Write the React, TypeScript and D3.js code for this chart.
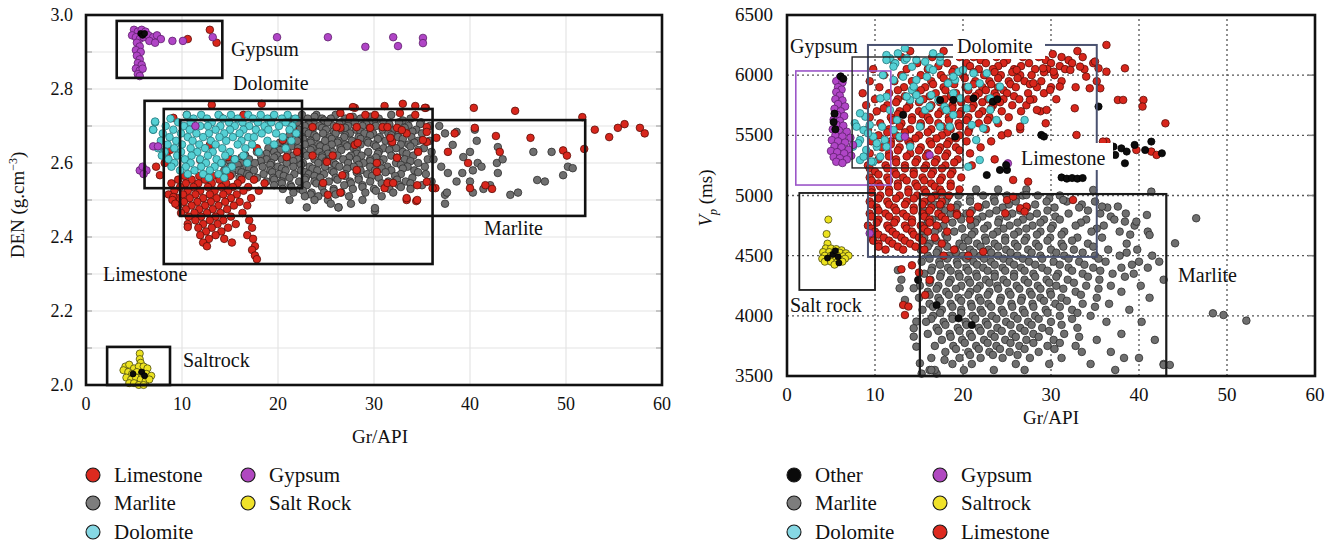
import React from "react";
import * as d3 from "d3";

type P = { x: number; y: number };
type Row = [number, number[]];

const FONT = "'Liberation Serif', 'Times New Roman', serif";

// ---------- helpers (parsing typed data only) ----------
const pairs = (s: string): P[] =>
  s.trim().split(/\s+/).map((t) => {
    const [x, y] = t.split(",").map(Number);
    return { x, y };
  });
const rows = (r: Row[]): P[] => r.flatMap(([y, xs]) => xs.map((x) => ({ x, y })));

// ================= LEFT PANEL DATA (Gr/API vs DEN) =================
const leftXTicks = [0, 10, 20, 30, 40, 50, 60];
const leftYTicks = [2.0, 2.2, 2.4, 2.6, 2.8, 3.0];

const leftMarliteRows: Row[] = [
  [2.73, [22.5, 24.0, 26.0, 31.8]],
  [2.725, [23.8, 27.8, 29.6]],
  [2.72, [21.2, 23.1, 24.6, 25.5, 27.0, 28.6, 30.5, 33.8]],
  [2.715, [21.0, 24.8, 27.4, 30.0, 33.0]],
  [2.71, [22.0, 23.7, 25.2, 26.6, 28.0, 29.5, 31.0, 32.6, 34.9]],
  [2.705, [23.2, 26.4, 29.2, 31.6, 34.8]],
  [2.70, [22.8, 24.3, 25.8, 27.3, 28.8, 30.2, 33.6, 35.8]],
  [2.695, [21.6, 24.6, 27.0, 29.6, 33.2]],
  [2.69, [22.2, 23.6, 25.0, 26.5, 28.1, 30.9, 32.2, 34.4]],
  [2.685, [22.8, 25.8, 28.6, 32.6, 34.0]],
  [2.68, [21.8, 23.2, 24.7, 26.0, 27.5, 29.0, 29.9, 31.5, 35.0]],
  [2.675, [21.2, 23.8, 27.0, 29.6, 31.8]],
  [2.67, [22.5, 24.0, 25.4, 26.9, 28.4, 30.6, 32.5, 33.9]],
  [2.665, [22.6, 25.6, 28.6, 30.4, 33.0]],
  [2.66, [20.9, 22.0, 23.4, 24.9, 26.3, 27.7, 29.3, 31.2, 34.6, 35.8]],
  [2.655, [20.2, 23.4, 26.2, 29.4, 31.8, 34.2]],
  [2.65, [21.4, 22.8, 24.2, 25.6, 27.0, 28.6, 30.0, 32.8, 33.6]],
  [2.645, [21.4, 24.4, 27.2, 30.2, 33.8]],
  [2.64, [19.0, 20.5, 22.1, 23.6, 25.0, 26.5, 27.9, 31.0, 32.3, 35.2]],
  [2.635, [20.2, 23.4, 26.6, 28.2, 31.6, 34.6]],
  [2.63, [17.8, 19.6, 21.0, 22.6, 24.3, 25.7, 29.4, 30.5, 33.0, 36.0]],
  [2.625, [18.8, 22.2, 25.2, 28.2, 30.4, 33.4]],
  [2.62, [16.6, 18.2, 19.9, 21.6, 23.0, 24.6, 26.2, 27.6, 28.7, 31.8, 34.1]],
  [2.615, [16.2, 19.6, 24.6, 27.4, 30.2, 32.4]],
  [2.61, [15.5, 17.0, 18.8, 20.4, 22.1, 23.8, 25.3, 26.8, 28.2, 29.6, 31.0, 33.2, 35.6]],
  [2.605, [15.0, 18.2, 21.6, 25.0, 29.6, 33.8]],
  [2.60, [14.2, 16.1, 17.6, 19.3, 20.9, 22.6, 24.2, 25.8, 27.3, 28.9, 30.6, 32.3, 34.6]],
  [2.595, [15.8, 19.2, 22.4, 26.0, 28.4, 32.8]],
  [2.59, [15.0, 16.7, 18.4, 20.0, 21.6, 23.3, 24.9, 26.4, 27.9, 29.6, 31.4, 33.5, 35.3]],
  [2.585, [17.0, 20.4, 23.6, 27.2, 30.8, 33.0]],
  [2.58, [14.4, 15.9, 17.5, 19.2, 20.8, 22.4, 24.1, 25.6, 28.6, 30.1, 31.8, 34.2]],
  [2.575, [16.2, 19.4, 22.8, 25.8, 28.2, 31.2, 34.6]],
  [2.57, [15.2, 16.8, 18.5, 20.1, 21.7, 23.2, 24.8, 27.0, 29.3, 32.8, 35.4]],
  [2.565, [17.0, 20.6, 23.8, 27.0, 29.8, 32.2]],
  [2.56, [16.0, 17.8, 19.5, 21.2, 22.9, 24.4, 26.0, 28.4, 30.5, 34.0]],
  [2.555, [19.6, 22.8, 26.2, 28.4, 32.4]],
  [2.55, [18.8, 20.4, 22.2, 23.8, 25.3, 27.5, 29.6, 31.5, 33.3, 36.0]],
  [2.545, [20.4, 24.0, 27.6, 30.8, 33.8]],
  [2.54, [19.6, 21.3, 23.0, 24.6, 26.9, 28.8, 32.6, 35.0]],
  [2.535, [21.4, 24.6, 28.8, 32.8]],
  [2.53, [20.5, 22.3, 25.8, 27.8, 30.0, 31.6, 33.8]],
  [2.525, [22.6, 25.8, 30.2]],
  [2.52, [21.6, 23.5, 24.8, 26.6, 29.1, 32.0]],
  [2.515, [23.4, 26.0]],
  [2.51, [22.8, 24.2, 27.4, 30.8]],
  [2.50, [21.2, 23.8, 25.2, 28.8]],
  [2.49, [25.5, 27.6]],
  [2.48, [23.0, 26.3]],
  [2.47, [30.1]],
];
const leftMarliteScatter =
  "37.4,2.68 38.6,2.684 38.2,2.649 37.7,2.573 37.4,2.514 37.4,2.49 38.6,2.55 39.2,2.573 39.3,2.616 40.0,2.63 40.5,2.69 40.7,2.66 40.8,2.60 41.2,2.59 40.3,2.58 40.0,2.55 40.3,2.52 41.4,2.53 42.1,2.54 42.9,2.573 42.8,2.60 42.9,2.643 43.4,2.61 46.6,2.63 48.5,2.63 47.0,2.554 47.8,2.55 49.7,2.567 50.2,2.59 50.7,2.586 44.2,2.514 45.0,2.52 37.6,2.52 30.1,2.478 26.3,2.48 36.8,2.70 36.2,2.61 37.0,2.59";

const leftLimestoneRows: Row[] = [
  [2.565, [10.3, 11.8, 13.2, 15.0]],
  [2.555, [9.6, 11.0, 12.4, 13.9, 16.2, 17.5]],
  [2.545, [8.9, 10.4, 11.7, 13.1, 14.6, 15.8, 18.6]],
  [2.535, [9.8, 11.2, 12.7, 14.1, 15.3, 16.9]],
  [2.525, [9.2, 10.6, 11.9, 13.4, 14.8, 16.4, 18.0]],
  [2.515, [8.6, 10.1, 11.4, 12.9, 14.3, 15.7]],
  [2.505, [9.5, 10.8, 12.2, 13.6, 15.1, 17.2]],
  [2.495, [10.2, 11.6, 13.0, 14.5, 16.0]],
  [2.485, [9.6, 11.0, 12.4, 13.8, 15.4, 16.8]],
  [2.475, [10.4, 11.8, 13.2, 14.7]],
  [2.465, [9.9, 11.3, 12.6, 14.0, 16.3]],
  [2.455, [10.7, 12.0, 13.5, 15.1]],
  [2.445, [11.4, 12.9, 14.3, 17.0]],
  [2.435, [10.6, 12.2, 13.7, 15.6]],
  [2.425, [11.7, 13.1, 14.8, 17.3]],
  [2.415, [12.5, 14.1]],
  [2.405, [11.9, 13.5, 16.8]],
  [2.395, [12.8, 14.4, 17.4]],
  [2.385, [12.2, 15.2]],
  [2.375, [12.6, 17.6]],
  [2.365, [17.3]],
  [2.35, [17.6]],
  [2.34, [17.8]],
];
const leftLimestoneScatter =
  "10.6,2.935 12.9,2.96 13.6,2.925 40.4,2.749 44.7,2.741 51.7,2.724 53.0,2.69 54.5,2.67 55.4,2.695 56.1,2.705 57.7,2.695 58.2,2.68 51.9,2.638 49.7,2.634 50.1,2.62 46.3,2.668 42.7,2.673 43.1,2.63 40.5,2.695 39.8,2.60 41.6,2.54 42.3,2.53 40.0,2.532 37.7,2.63 38.4,2.68 36.4,2.532 36.5,2.668 33.4,2.50 34.4,2.497 35.5,2.697 35.4,2.749 34.3,2.754 33.0,2.76 31.1,2.754 32.7,2.735 34.3,2.73 28.0,2.749 29.1,2.73 30.1,2.73 27.5,2.724 26.5,2.735 32.4,2.695 30.9,2.697 28.2,2.697 26.5,2.695 33.4,2.68 31.9,2.657 28.0,2.649 35.5,2.657 34.6,2.63 32.4,2.614 30.3,2.60 28.2,2.581 26.7,2.567 31.1,2.532 26.5,2.52 34.5,2.54 13.1,2.757 18.3,2.76 27.8,2.751 35.3,2.749 16.4,2.73 14.0,2.724 19.5,2.724 10.5,2.73 9.1,2.722 21.6,2.689 23.6,2.697 26.1,2.697 29.6,2.695 31.4,2.697 32.9,2.689 35.5,2.684 35.1,2.662 31.7,2.668 28.3,2.654 25.1,2.603 25.7,2.62 23.6,2.62 30.3,2.576 31.4,2.546 32.0,2.546 24.7,2.546 25.2,2.514 33.4,2.505 34.5,2.50 36.1,2.532 35.5,2.549 20.5,2.662 22.0,2.63 20.9,2.616 17.8,2.64 12.9,2.649 11.9,2.608 14.8,2.616 8.75,2.635 7.7,2.567 9.1,2.508 10.6,2.427 8.4,2.62 9.0,2.50 9.3,2.49 7.3,2.59 8.2,2.60";

const leftDolomiteRows: Row[] = [
  [2.73, [10.5, 12.0, 13.8, 15.1, 16.9, 18.2, 19.6, 21.0]],
  [2.72, [8.8, 11.2, 12.6, 14.3, 15.8, 17.4, 18.9, 20.4, 21.8]],
  [2.71, [7.2, 9.6, 10.9, 13.1, 14.9, 16.3, 17.9, 19.3, 20.8]],
  [2.70, [8.3, 10.2, 11.9, 12.7, 14.0, 15.5, 17.0, 18.6, 20.1, 21.5]],
  [2.69, [7.0, 9.1, 10.8, 13.5, 15.0, 16.4, 17.7, 19.0, 21.2]],
  [2.68, [8.0, 9.9, 11.5, 12.8, 14.4, 16.0, 18.3, 19.8, 21.9]],
  [2.67, [8.7, 10.6, 12.2, 13.9, 15.3, 16.9, 17.5, 20.5]],
  [2.66, [7.8, 9.4, 11.1, 13.0, 14.6, 16.2, 18.9, 21.4]],
  [2.65, [8.5, 10.0, 11.8, 13.5, 15.8, 17.3, 19.6]],
  [2.64, [7.5, 9.2, 10.9, 12.4, 14.2, 16.6, 20.8]],
  [2.63, [8.2, 9.9, 11.6, 13.2, 15.0, 18.0]],
  [2.62, [7.9, 9.5, 11.0, 12.7, 14.5, 16.4]],
  [2.61, [8.6, 10.3, 11.9, 13.6, 15.5]],
  [2.60, [9.2, 10.9, 12.5, 14.1, 16.8]],
  [2.59, [8.9, 10.4, 12.0, 13.4, 15.2]],
  [2.58, [9.8, 11.3, 12.9, 14.6]],
  [2.57, [10.6, 12.2, 13.8]],
  [2.56, [12.8, 14.4]],
];
const leftDolomiteScatter = "7.2,2.712 7.0,2.69";

const leftGypsum =
  "5.0,2.96 5.4,2.955 5.8,2.96 6.2,2.955 4.8,2.945 5.2,2.94 5.6,2.935 6.0,2.94 6.5,2.945 7.0,2.94 7.4,2.945 7.8,2.935 6.6,2.93 7.2,2.925 5.3,2.925 5.6,2.915 5.2,2.905 5.7,2.9 5.3,2.89 5.6,2.88 5.4,2.87 5.8,2.865 5.2,2.855 5.6,2.85 5.9,2.855 5.4,2.84 5.6,2.835 9.0,2.93 10.1,2.93 13.2,2.94 19.9,2.94 25.2,2.94 29.1,2.914 32.0,2.94 32.5,2.916 35.1,2.938 35.1,2.924 5.6,2.58 5.9,2.59 6.3,2.58 6.0,2.57 7.0,2.645 7.5,2.645 11.4,2.70";
const leftOther = "5.7,2.95 5.9,2.945 6.1,2.95 4.9,2.03 5.8,2.035 6.1,2.025";
const leftSalt =
  "5.6,2.085 5.6,2.07 5.7,2.06 4.1,2.05 4.5,2.055 5.0,2.045 5.5,2.05 6.0,2.05 6.4,2.045 3.9,2.04 4.4,2.035 4.8,2.03 5.3,2.035 5.8,2.03 6.3,2.03 6.8,2.025 4.2,2.02 4.7,2.015 5.2,2.02 5.7,2.015 6.2,2.01 6.6,2.015 4.5,2.005 5.0,2.005 5.5,2.0 6.0,2.0";

// zone boxes (Gr/API range, DEN range)
const leftBoxes = [
  { name: "Gypsum", x0: 3.2, x1: 14.2, y0: 2.83, y1: 2.984 },
  { name: "Dolomite", x0: 6.1, x1: 22.5, y0: 2.532, y1: 2.768 },
  { name: "Limestone", x0: 8.1, x1: 36.1, y0: 2.327, y1: 2.746 },
  { name: "Marlite", x0: 9.8, x1: 52.0, y0: 2.457, y1: 2.716 },
  { name: "Saltrock", x0: 2.2, x1: 8.75, y0: 2.0, y1: 2.103 },
];

// ================= RIGHT PANEL DATA (Gr/API vs Vp) =================
const rightXTicks = [0, 10, 20, 30, 40, 50, 60];
const rightYTicks = [3500, 4000, 4500, 5000, 5500, 6000, 6500];

const rightMarliteRows: Row[] = [
  [5050, [21.5, 24.0, 27.2]],
  [5000, [17.0, 19.5, 22.3, 25.0, 26.8, 28.5, 31.0]],
  [4975, [18.2, 20.8, 23.5, 26.0, 29.8]],
  [4950, [16.0, 18.0, 20.8, 23.6, 26.0, 29.5, 31.8, 35.0]],
  [4925, [16.8, 19.4, 22.6, 25.2, 28.2, 33.5]],
  [4900, [17.5, 19.2, 21.9, 24.5, 27.3, 30.4, 33.2, 36.4]],
  [4875, [15.6, 18.0, 21.0, 23.8, 26.5, 29.6, 34.2]],
  [4850, [15.8, 18.6, 20.4, 23.0, 25.6, 28.4, 32.0, 35.6, 38.5]],
  [4825, [17.3, 19.6, 22.2, 25.0, 27.6, 30.5, 36.8]],
  [4800, [16.5, 19.8, 21.6, 24.1, 26.8, 29.2, 31.0, 34.0, 37.2]],
  [4775, [16.0, 18.8, 21.4, 24.0, 26.2, 28.8, 33.4]],
  [4750, [15.4, 17.8, 20.9, 22.8, 25.3, 27.9, 30.2, 32.8, 36.0, 39.5]],
  [4725, [17.2, 19.9, 22.4, 24.6, 27.2, 30.0, 35.2]],
  [4700, [16.8, 19.0, 21.3, 23.9, 26.3, 28.8, 31.5, 34.6, 37.8, 41.0]],
  [4675, [15.4, 18.0, 21.0, 23.4, 25.8, 28.4, 31.2, 39.0]],
  [4650, [15.6, 18.2, 20.2, 22.5, 24.8, 27.2, 29.9, 33.0, 35.8]],
  [4625, [17.0, 20.6, 22.6, 24.8, 27.0, 29.6, 32.4]],
  [4600, [16.2, 17.9, 19.6, 21.6, 23.6, 25.9, 28.3, 31.2, 34.2, 38.6]],
  [4575, [16.0, 18.2, 20.0, 22.0, 24.0, 26.2, 28.6, 31.4, 34.8]],
  [4550, [15.2, 17.2, 19.1, 20.8, 22.9, 24.9, 27.4, 30.0, 32.6, 36.5, 39.8]],
  [4525, [17.0, 19.2, 21.2, 23.2, 25.4, 27.8, 30.6, 33.6, 38.6]],
  [4500, [16.0, 18.4, 20.0, 22.0, 24.0, 26.2, 28.8, 31.5, 35.0, 37.8, 41.5]],
  [4475, [16.2, 18.2, 20.4, 22.4, 24.6, 26.8, 29.0, 32.0, 35.4]],
  [4450, [15.3, 17.3, 19.3, 21.2, 23.2, 25.3, 27.5, 30.3, 33.2, 36.2, 40.0, 42.3]],
  [4425, [17.4, 19.4, 21.6, 23.6, 25.8, 28.2, 31.0, 33.8, 39.2]],
  [4400, [16.5, 18.3, 20.4, 22.3, 24.5, 26.6, 29.0, 32.0, 34.8, 38.0, 41.0]],
  [4375, [16.4, 18.6, 20.6, 22.8, 24.8, 27.0, 29.6, 32.4, 35.6]],
  [4350, [15.6, 17.5, 19.5, 21.5, 23.6, 25.8, 28.0, 30.8, 33.6, 37.0, 39.4]],
  [4325, [17.4, 19.6, 21.6, 23.6, 25.8, 28.2, 30.6, 34.2, 38.4]],
  [4300, [16.3, 18.6, 20.6, 22.6, 24.6, 27.0, 29.5, 31.9, 35.5, 42.8]],
  [4275, [16.2, 18.4, 20.8, 23.0, 25.0, 27.4, 29.8, 32.6]],
  [4250, [15.1, 17.2, 19.8, 21.9, 23.9, 26.1, 28.5, 30.6, 34.0, 36.8, 40.2]],
  [4225, [17.0, 19.2, 21.6, 24.0, 26.4, 28.8, 31.4, 35.4]],
  [4200, [16.0, 18.1, 20.8, 23.0, 25.2, 27.6, 29.9, 32.8, 38.0]],
  [4175, [16.2, 18.4, 20.6, 22.8, 25.4, 27.8, 30.0, 33.4]],
  [4150, [15.0, 17.2, 19.5, 21.8, 24.3, 26.7, 28.8, 31.2, 35.2, 41.2]],
  [4125, [17.4, 19.8, 22.0, 24.2, 26.6, 29.2, 31.8]],
  [4100, [16.2, 18.6, 20.9, 22.9, 25.5, 27.9, 30.5, 33.6, 36.6]],
  [4075, [16.6, 18.8, 21.0, 23.2, 25.6, 28.0, 31.0, 35.0]],
  [4050, [15.4, 17.6, 19.8, 22.0, 24.4, 26.8, 29.4, 32.4, 38.9]],
  [4025, [17.4, 19.8, 22.2, 24.6, 27.0, 29.6, 33.0]],
  [4000, [16.6, 18.8, 21.1, 23.3, 25.8, 28.2, 31.0, 34.5]],
  [3975, [16.4, 18.8, 21.4, 23.8, 26.2, 28.6, 32.4]],
  [3950, [15.8, 17.8, 20.3, 22.6, 24.9, 27.4, 30.0, 36.3, 40.3]],
  [3925, [18.0, 20.4, 22.8, 25.4, 27.8, 31.2]],
  [3900, [17.0, 19.4, 21.8, 23.9, 26.5, 29.0, 33.0]],
  [3875, [17.2, 19.6, 22.0, 24.4, 27.0, 29.8]],
  [3850, [16.0, 18.5, 20.8, 23.2, 25.6, 28.0, 31.5, 38.0]],
  [3825, [18.6, 21.0, 23.6, 26.0, 28.6, 33.2]],
  [3800, [17.6, 19.9, 22.4, 24.8, 27.2, 30.3, 35.2, 41.8]],
  [3775, [20.2, 22.8, 25.4, 28.0, 31.0]],
  [3750, [16.8, 18.9, 21.5, 23.8, 26.4, 29.6, 32.8]],
  [3725, [19.2, 21.8, 24.2, 27.0, 30.4]],
  [3700, [18.0, 20.6, 23.0, 25.3, 28.6, 33.5, 36.8]],
  [3675, [20.8, 23.4, 26.2]],
  [3650, [16.4, 19.6, 22.0, 24.5, 27.6, 31.2, 38.3, 40.0]],
  [3600, [18.8, 21.0, 26.0, 29.8, 34.5, 42.8]],
  [3550, [16.2, 20.1, 23.5, 27.0, 37.3]],
  [3520, [15.3, 17.0]],
];
const rightMarliteScatter =
  "12.8,4229 13.4,4132 14.4,4229 14.4,3827 14.7,3744 15.1,3606 14.7,3952 14.4,3897 17.9,3633 16.8,3550 16.4,3550 46.5,4811 44.1,4603 48.4,4021 49.6,4007 52.2,3960 42.8,3592 43.5,3592 34.8,5046 35.8,4908 37.6,4908 38.4,4783 39.7,4783 40.9,4838 41.4,5032 41.2,4672 31.4,4963 27.2,5004 13.0,4300 12.6,4380";

const rightLimestoneRows: Row[] = [
  [6200, [14.0, 17.8, 22.5, 25.5, 33.0]],
  [6175, [20.8, 24.6, 27.6, 30.2]],
  [6150, [13.0, 16.5, 19.6, 21.2, 23.8, 26.8, 28.6, 31.2, 33.6]],
  [6125, [22.0, 25.0, 29.4, 32.0]],
  [6100, [12.2, 14.8, 18.2, 20.4, 22.6, 24.6, 27.5, 30.0, 32.4, 34.8]],
  [6075, [17.2, 20.8, 24.0, 26.6, 31.0]],
  [6050, [9.8, 13.6, 16.0, 19.0, 21.8, 23.4, 25.8, 28.2, 29.6, 31.6, 33.8]],
  [6025, [18.8, 21.2, 23.6, 25.6, 29.2]],
  [6000, [11.0, 13.0, 15.2, 17.5, 20.0, 22.4, 24.3, 26.5, 27.8, 30.4]],
  [5975, [17.8, 20.2, 24.0, 26.2]],
  [5950, [9.4, 12.2, 14.2, 16.4, 18.7, 21.4, 23.0, 25.2, 27.0, 28.9, 31.2, 35.2]],
  [5925, [16.6, 19.0, 21.2, 23.2, 25.4, 27.6]],
  [5900, [10.5, 13.3, 15.7, 17.8, 20.3, 22.2, 24.0, 26.0, 28.4, 30.0, 32.8]],
  [5875, [12.6, 15.2, 18.0, 20.6, 22.6, 24.6]],
  [5850, [8.6, 11.6, 14.6, 16.9, 19.2, 21.8, 23.6, 25.0, 27.4, 29.2]],
  [5825, [13.4, 16.2, 18.6, 21.4, 23.8, 25.8]],
  [5800, [10.0, 12.6, 15.5, 17.9, 20.6, 22.8, 24.6, 26.4, 28.0, 30.6]],
  [5775, [12.4, 15.0, 17.4, 19.8, 22.2, 24.2]],
  [5750, [9.0, 11.4, 13.9, 16.4, 18.8, 21.2, 23.4, 25.6, 27.2]],
  [5725, [11.0, 13.6, 16.2, 18.8, 21.0, 23.2]],
  [5700, [10.2, 12.8, 15.0, 17.5, 19.8, 22.2, 24.4, 26.6, 28.8]],
  [5675, [12.6, 15.4, 17.2, 19.6, 21.8]],
  [5650, [9.4, 11.8, 14.2, 16.0, 18.4, 20.6, 23.0, 25.2]],
  [5625, [12.0, 14.2, 16.2, 18.4, 20.4, 22.8]],
  [5600, [10.6, 13.0, 15.2, 17.2, 19.5, 21.8, 24.0, 29.4]],
  [5575, [12.8, 15.2, 17.6, 19.6]],
  [5550, [9.2, 11.6, 14.0, 16.4, 18.6, 20.7, 22.6, 26.5]],
  [5525, [11.4, 13.4, 16.0, 18.2, 20.6]],
  [5500, [10.4, 12.4, 15.0, 17.6, 19.6, 24.4]],
  [5475, [12.8, 14.6, 17.0, 19.2]],
  [5450, [9.6, 11.8, 13.8, 16.2, 18.4, 20.4, 23.2]],
  [5425, [11.8, 14.0, 16.4, 18.2]],
  [5400, [10.8, 12.8, 15.2, 17.4, 19.2, 22.0]],
  [5375, [12.6, 15.0, 17.2, 19.6]],
  [5350, [9.4, 11.6, 14.0, 16.0, 18.2, 20.8]],
  [5325, [11.6, 13.6, 15.8, 18.0]],
  [5300, [10.4, 12.4, 14.8, 17.0, 19.4, 23.6]],
  [5275, [12.4, 14.6, 16.8, 19.0]],
  [5250, [9.2, 11.2, 13.4, 15.8, 18.0, 21.0]],
  [5225, [9.4, 11.4, 13.4, 15.6, 17.6]],
  [5200, [10.0, 12.2, 14.4, 16.6, 18.8]],
  [5175, [10.4, 12.4, 14.4, 16.4, 18.6]],
  [5150, [9.4, 11.4, 13.2, 15.4, 17.6, 19.8]],
  [5125, [9.6, 11.6, 13.6, 15.6, 17.4]],
  [5100, [10.4, 12.6, 14.6, 16.4, 18.6]],
  [5075, [10.6, 12.6, 14.8, 16.8, 18.6]],
  [5050, [9.6, 11.6, 13.8, 15.6, 17.4, 19.6]],
  [5025, [9.6, 11.6, 13.8, 15.8, 17.6]],
  [5000, [10.6, 12.8, 14.8, 16.8, 18.4]],
  [4975, [10.4, 12.4, 14.4, 16.4]],
  [4950, [9.4, 11.4, 13.6, 15.6, 17.6]],
  [4925, [9.6, 11.6, 13.4, 15.4, 17.4]],
  [4900, [10.2, 12.2, 14.4, 16.4, 18.6]],
  [4875, [10.4, 12.4, 14.4, 16.2]],
  [4850, [9.4, 11.2, 13.2, 15.4, 17.2, 19.3]],
  [4825, [9.6, 11.6, 13.6, 15.6, 17.6]],
  [4800, [10.4, 12.4, 14.2, 16.2, 18.0, 20.8]],
  [4775, [10.2, 12.2, 14.2, 16.2]],
  [4750, [9.2, 11.4, 13.4, 15.2, 17.0]],
  [4725, [9.6, 11.6, 13.6, 15.6]],
  [4700, [10.0, 12.0, 14.2, 16.0, 18.2]],
  [4675, [10.4, 12.4, 14.4]],
  [4650, [9.6, 11.0, 13.0, 15.0, 16.8]],
  [4625, [9.8, 11.6, 13.4, 15.4]],
  [4600, [10.4, 12.0, 14.0, 17.6]],
  [4575, [10.4, 12.6, 14.6]],
  [4550, [11.2, 13.2, 15.6, 19.0]],
  [4500, [17.8, 20.6]],
];
const rightLimestoneScatter =
  "26.1,6043 29.1,6057 30.3,6029 32.2,6043 33.3,6071 34.0,5988 34.4,5891 35.6,5891 36.3,6029 38.4,6057 35.0,6113 31.0,5905 29.9,5877 28.0,5933 27.6,5794 28.4,5711 29.5,5711 32.7,5725 25.1,5517 26.5,5572 32.9,5503 37.6,5794 38.2,5794 40.5,5794 40.4,5739 43.0,5600 39.7,5378 41.4,5365 42.0,5337 25.7,5129 27.4,5115 32.5,4963 36.3,5448 36.3,6251 13.0,4387 13.2,4090 13.8,4077 13.4,4007 16.2,4298 15.7,4173 22.3,4533 19.3,4838 20.8,4852 25.0,4962 25.7,4990 21.7,4907 27.2,4908 26.5,4894 24.8,4852 27.0,4866 35.4,6057 35.9,5448 14.2,4420 15.0,4360";

const rightDolomite =
  "11.7,6140 12.3,6098 13.4,6126 14.7,6126 15.7,6112 14.2,6070 16.2,6057 17.4,6112 10.9,6001 12.1,5960 13.2,5987 11.3,5821 10.6,5807 11.7,5710 14.0,5793 14.2,5876 15.1,5793 16.4,5835 17.2,5793 15.7,5710 18.9,5669 19.7,5807 20.6,5904 21.2,6015 21.9,5932 20.4,5724 21.0,5586 21.5,5461 22.3,5558 23.1,5807 23.8,5627 19.5,6029 19.1,5960 18.3,5932 17.9,5738 8.9,5655 9.4,5586 8.7,5544 9.8,5489 8.3,5461 9.0,5378 10.2,5406 8.3,5295 9.8,5281 10.6,5323 7.7,5600 11.1,5461 12.5,5627 12.1,5544 14.7,5960 15.9,5987 13.4,6223 12.6,6181 11.3,6167 16.6,6181 17.4,6153 20.6,5239 21.9,5295 27.0,5627 7.5,5406 14.7,5835 18.5,5572 8.3,5683 7.9,5572 8.1,5434 8.7,5323 9.6,5282 10.2,5434 9.2,5517 11.3,6126 12.1,6071 13.6,6140 14.4,5905 16.6,6043 18.9,5988 20.0,6043 22.7,6016 23.1,5711 24.2,5905 18.9,5849 16.2,5739 17.4,5572 18.1,5711 13.6,5822 12.8,5489 14.0,5406 11.3,5406 10.8,5572 15.1,5572";

const rightGypsum =
  "6.0,5980 5.6,5950 6.3,5940 5.8,5900 6.2,5880 5.6,5860 6.0,5830 5.5,5800 6.3,5790 5.8,5760 6.6,5740 5.4,5720 6.1,5700 5.7,5670 6.5,5660 5.3,5630 6.0,5620 5.6,5590 6.4,5580 5.2,5550 5.9,5540 6.8,5530 5.5,5500 6.3,5490 7.2,5480 5.1,5460 5.8,5450 6.6,5440 7.5,5420 5.4,5410 6.2,5400 7.0,5380 5.0,5370 5.7,5360 6.5,5350 7.3,5330 5.3,5320 6.0,5310 6.8,5300 5.6,5280 6.3,5270 13.4,5489 16.2,5336 25.1,5267 9.4,4686";

const rightSalt =
  "4.7,4800 4.5,4680 4.6,4600 4.4,4560 5.0,4560 5.6,4555 6.2,4545 4.1,4530 4.8,4530 5.4,4525 6.0,4525 6.7,4520 4.3,4500 5.0,4500 5.7,4500 6.4,4495 7.0,4500 4.0,4475 4.7,4475 5.3,4470 6.0,4470 6.6,4475 4.3,4450 5.0,4450 5.7,4445 6.3,4450 5.4,4425";

const rightOther =
  "37.1,5406 38.0,5392 38.6,5365 38.4,5268 37.3,5337 40.7,5378 41.4,5448 42.6,5351 39.5,5420 31.2,5150 31.8,5140 32.4,5145 33.0,5140 33.6,5145 35.4,5739 25.0,5212 23.4,5780 23.9,5800 21.2,5807 17.4,5793 18.9,5794 19.1,5489 24.9,5253 24.2,5212 22.7,5170 17.0,4090 19.5,3979 21.0,3924 13.2,5670 14.9,4298 28.9,5503 29.2,5490 6.1,5990 6.4,5970 5.4,5680 5.3,5610 5.5,5550";
const rightSaltOther = "5.2,4510 5.8,4490 4.6,4480 5.9,4440 5.5,4540";

// ================= STYLES =================
const C = {
  limestone: { fill: "#d8261c", stroke: "#5c0e08" },
  marlite: { fill: "#6f6f6f", stroke: "#2e2e2e" },
  dolomite: { fill: "#55d0d4", stroke: "#23777c" },
  gypsum: { fill: "#b045c6", stroke: "#5e1f6c" },
  salt: { fill: "#ece21f", stroke: "#4a4a10" },
  other: { fill: "#0c0c0c", stroke: "#000" },
};

const leftLegend = [
  { label: "Limestone", fill: "#dd2a1f", col: 0, row: 0 },
  { label: "Marlite", fill: "#7d7d7d", col: 0, row: 1 },
  { label: "Dolomite", fill: "#86d8e4", col: 0, row: 2 },
  { label: "Gypsum", fill: "#b048c0", col: 1, row: 0 },
  { label: "Salt Rock", fill: "#f0e22a", col: 1, row: 1 },
];
const rightLegend = [
  { label: "Other", fill: "#0a0a0a", col: 0, row: 0 },
  { label: "Marlite", fill: "#7d7d7d", col: 0, row: 1 },
  { label: "Dolomite", fill: "#86d8e4", col: 0, row: 2 },
  { label: "Gypsum", fill: "#b048c0", col: 1, row: 0 },
  { label: "Saltrock", fill: "#f0e22a", col: 1, row: 1 },
  { label: "Limestone", fill: "#dd2a1f", col: 1, row: 2 },
];

function Dots({ data, sx, sy, st, r }: { data: P[]; sx: any; sy: any; st: { fill: string; stroke: string }; r: number }) {
  return (
    <g>
      {data.map((d, i) => (
        <circle key={i} cx={sx(d.x)} cy={sy(d.y)} r={r} fill={st.fill} stroke={st.stroke} strokeWidth={0.8} />
      ))}
    </g>
  );
}

function Legend({ items, x0, x1 }: { items: typeof leftLegend; x0: number; x1: number }) {
  const rowsY = [475, 503, 532];
  return (
    <g fontFamily={FONT} fontSize={21} fill="#111">
      {items.map((it) => {
        const cx = it.col === 0 ? x0 : x1;
        const cy = rowsY[it.row];
        return (
          <g key={it.label}>
            <circle cx={cx} cy={cy} r={7} fill={it.fill} stroke="#1a1a1a" strokeWidth={1.1} />
            <text x={cx + 21} y={cy + 7}>{it.label}</text>
          </g>
        );
      })}
    </g>
  );
}

export default function App() {
  const lx = d3.scaleLinear().domain([0, 60]).range([86, 662]);
  const ly = d3.scaleLinear().domain([2.0, 3.0]).range([385, 15]);
  const rx = d3.scaleLinear().domain([0, 60]).range([787, 1315]);
  const ry = d3.scaleLinear().domain([3500, 6500]).range([376, 15]);

  const lMinor = d3.range(2.1, 3.0, 0.1);
  const lGridX = [10, 20, 30, 40, 50];
  const rGridX = [10, 20, 30, 40, 50];
  const rGridY = [4000, 4500, 5000, 5500, 6000];

  const box = (sx: any, sy: any, b: { x0: number; x1: number; y0: number; y1: number }) => ({
    x: sx(b.x0),
    y: sy(b.y1),
    width: sx(b.x1) - sx(b.x0),
    height: sy(b.y0) - sy(b.y1),
  });

  return (
    <svg width={1341} height={548} style={{ position: "fixed", left: 0, top: 0, background: "#fff" }} fontFamily={FONT}>
      <rect width={1341} height={548} fill="#fff" />
      {/* ================= LEFT PANEL ================= */}
      <g>
        {lMinor.map((v) => (
          <line key={"lg" + v} x1={lx(0)} x2={lx(60)} y1={ly(v)} y2={ly(v)} stroke="#e4e4e4" strokeWidth={1.2} />
        ))}
        {lGridX.map((v) => (
          <line key={"lgx" + v} x1={lx(v)} x2={lx(v)} y1={ly(2.0)} y2={ly(3.0)} stroke="#e4e4e4" strokeWidth={1.2} />
        ))}
        {lMinor.map((v) => (
          <g key={"lt" + v}>
            <line x1={lx(0)} x2={lx(0) + 6} y1={ly(v)} y2={ly(v)} stroke="#999" />
            <line x1={lx(60) - 6} x2={lx(60)} y1={ly(v)} y2={ly(v)} stroke="#999" />
          </g>
        ))}

        <Dots data={[...rows(leftMarliteRows), ...pairs(leftMarliteScatter)]} sx={lx} sy={ly} st={C.marlite} r={3.8} />
        <Dots data={[...rows(leftLimestoneRows), ...pairs(leftLimestoneScatter)]} sx={lx} sy={ly} st={C.limestone} r={3.8} />
        <Dots data={[...rows(leftDolomiteRows), ...pairs(leftDolomiteScatter)]} sx={lx} sy={ly} st={C.dolomite} r={3.8} />
        <Dots data={pairs(leftGypsum)} sx={lx} sy={ly} st={C.gypsum} r={3.8} />
        <Dots data={pairs(leftSalt)} sx={lx} sy={ly} st={C.salt} r={3.6} />
        <Dots data={pairs(leftOther)} sx={lx} sy={ly} st={C.other} r={3} />

        {leftBoxes.map((b) => (
          <rect key={b.name} {...box(lx, ly, b)} fill="none" stroke="#111" strokeWidth={2.6} />
        ))}

        <rect x={lx(0)} y={ly(3.0)} width={lx(60) - lx(0)} height={ly(2.0) - ly(3.0)} fill="none" stroke="#111" strokeWidth={2.6} />

        <g fontSize={20} fill="#111">
          <text x={231} y={56}>Gypsum</text>
          <text x={233} y={90}>Dolomite</text>
          <text x={103} y={281}>Limestone</text>
          <text x={484} y={235}>Marlite</text>
          <text x={183} y={367}>Saltrock</text>
        </g>

        <g fontSize={18} fill="#111">
          {leftXTicks.map((t) => (
            <text key={"lxt" + t} x={lx(t)} y={410} textAnchor="middle">{t}</text>
          ))}
          {leftYTicks.map((t) => (
            <text key={"lyt" + t} x={73} y={ly(t) + 6} textAnchor="end">{t.toFixed(1)}</text>
          ))}
        </g>
        <text x={380} y={443} textAnchor="middle" fontSize={19} fill="#111">Gr/API</text>
        <text transform="translate(24,205) rotate(-90)" textAnchor="middle" fontSize={19} fill="#111">
          DEN (g.cm<tspan dy={-7} fontSize={12}>−3</tspan><tspan dy={7}>)</tspan>
        </text>
      </g>

      {/* ================= RIGHT PANEL ================= */}
      <g>
        {rGridX.map((v) => (
          <line key={"rgx" + v} x1={rx(v)} x2={rx(v)} y1={ry(3500)} y2={ry(6500)} stroke="#555" strokeWidth={1.3} strokeDasharray="2,3" />
        ))}
        {rGridY.map((v) => (
          <line key={"rgy" + v} x1={rx(0)} x2={rx(60)} y1={ry(v)} y2={ry(v)} stroke="#555" strokeWidth={1.3} strokeDasharray="2,3" />
        ))}
        {rGridY.map((v) => (
          <line key={"rt" + v} x1={rx(60) - 7} x2={rx(60)} y1={ry(v)} y2={ry(v)} stroke="#888" strokeWidth={1.5} />
        ))}

        <Dots data={[...rows(rightMarliteRows), ...pairs(rightMarliteScatter)]} sx={rx} sy={ry} st={C.marlite} r={3.8} />
        <Dots data={[...rows(rightLimestoneRows), ...pairs(rightLimestoneScatter)]} sx={rx} sy={ry} st={C.limestone} r={3.8} />
        <Dots data={pairs(rightDolomite)} sx={rx} sy={ry} st={C.dolomite} r={3.8} />
        <Dots data={pairs(rightGypsum)} sx={rx} sy={ry} st={C.gypsum} r={3.8} />
        <Dots data={pairs(rightOther)} sx={rx} sy={ry} st={C.other} r={3.6} />
        <Dots data={pairs(rightSalt)} sx={rx} sy={ry} st={C.salt} r={3.6} />
        <Dots data={pairs(rightSaltOther)} sx={rx} sy={ry} st={C.other} r={3} />

        <rect {...box(rx, ry, { x0: 1.0, x1: 11.8, y0: 5087, y1: 6035 })} fill="none" stroke="#9b55c8" strokeWidth={1.6} />
        <rect {...box(rx, ry, { x0: 9.2, x1: 35.2, y0: 4490, y1: 6251 })} fill="none" stroke="#4a5270" strokeWidth={2} />
        <rect {...box(rx, ry, { x0: 7.4, x1: 20.0, y0: 5229, y1: 6151 })} fill="none" stroke="#222" strokeWidth={1.4} />
        <rect {...box(rx, ry, { x0: 15.1, x1: 43.1, y0: 3500, y1: 5012 })} fill="none" stroke="#1a1a1a" strokeWidth={2.2} />
        <rect {...box(rx, ry, { x0: 1.4, x1: 10.0, y0: 4215, y1: 5021 })} fill="none" stroke="#1a1a1a" strokeWidth={1.8} />

        <rect x={rx(0)} y={ry(6500)} width={rx(60) - rx(0)} height={ry(3500) - ry(6500)} fill="none" stroke="#111" strokeWidth={2.6} />

        <g fontSize={20} fill="#111">
          <text x={790} y={53}>Gypsum</text>
          <rect x={953} y={33} width={92} height={26} fill="#fff" />
          <text x={957} y={53}>Dolomite</text>
          <rect x={1017} y={143} width={96} height={27} fill="#fff" />
          <text x={1021} y={165}>Limestone</text>
          <text x={1178} y={282}>Marlite</text>
          <text x={790} y={312}>Salt rock</text>
        </g>

        <g fontSize={19} fill="#111">
          {rightXTicks.map((t) => (
            <text key={"rxt" + t} x={rx(t)} y={401} textAnchor="middle">{t}</text>
          ))}
          {rightYTicks.map((t) => (
            <text key={"ryt" + t} x={773} y={ry(t) + 6} textAnchor="end">{t}</text>
          ))}
        </g>
        <text x={1051} y={424} textAnchor="middle" fontSize={19} fill="#111">Gr/API</text>
        <text transform="translate(712,198) rotate(-90)" textAnchor="middle" fontSize={19} fill="#111">
          <tspan fontStyle="italic">V</tspan>
          <tspan fontStyle="italic" fontSize={12} dy={5}>p</tspan>
          <tspan dy={-5}> (ms)</tspan>
        </text>
      </g>

      <Legend items={leftLegend} x0={93} x1={248} />
      <Legend items={rightLegend} x0={794} x1={940} />
    </svg>
  );
}
